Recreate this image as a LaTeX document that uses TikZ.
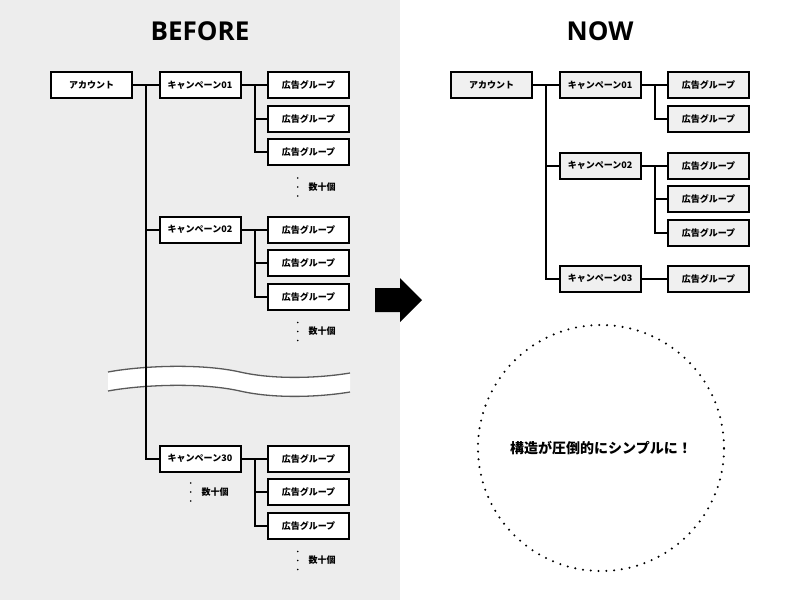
\documentclass[tikz,border=0pt]{standalone}
\usepackage{fontspec}
\setmainfont{Noto Sans CJK JP}
\newfontfamily\titlefont{Open Sans}[BoldFont={Open Sans Bold}]
\usetikzlibrary{math, calc}

\tikzset{
    box/.style={draw, line width=2pt, minimum width=81pt, minimum height=26pt, inner sep=0pt,
        font=\bfseries\fontsize{9}{9}\selectfont},
    oldbox/.style={box, fill=white},
    newbox/.style={box, fill=gray!12},
    link/.style={line width=2pt},
    many/.style={font=\bfseries\fontsize{9}{9}\selectfont, inner sep=0pt},
    title/.style={font=\titlefont\bfseries\fontsize{26}{26}\selectfont},
}

\begin{document}
\begin{tikzpicture}[x=1pt, y=-1pt]
    \tikzmath{
        \pitch=33.5;
        \gap=13;
        \grp=108.5;
    }
    \useasboundingbox (0, 0) rectangle (800, 600);
    \fill [gray!14] (0, 0) rectangle (400, 600);

    % titles
    \node [title] (before) at (200, 31) {BEFORE};
    \node [title] (now) at (600, 31) {NOW};

    % BEFORE
    \fill [white] (108, 372) .. controls (140, 366) and (200, 363) .. (240, 372)
        .. controls (275, 380) and (320, 378) .. (350, 373) -- (350, 392)
        .. controls (320, 397) and (275, 399) .. (240, 391)
        .. controls (200, 382) and (140, 385) .. (108, 391) -- cycle;
    \draw [black!65, line width=1.3pt] (108, 372) .. controls (140, 366) and (200, 363) .. (240, 372)
        .. controls (275, 380) and (320, 378) .. (350, 373);
    \draw [black!65, line width=1.3pt] (108, 391) .. controls (140, 385) and (200, 382) .. (240, 391)
        .. controls (275, 399) and (320, 397) .. (350, 392);

    \node [oldbox] (acc) at (91.5, 85) {アカウント};
    \foreach \c/\y in {01/85, 02/229.5, 30/458.5}{%
            \node [oldbox] (c\c) at (200, \y) {キャンペーン\c};
            \foreach \i in {1, 2, 3}{%
                    \node [oldbox] (g\c\i) at ($ (c\c) + (\grp, {(\i-1)*\pitch}) $) {広告グループ};
                }
            \draw [link] (c\c) -- (g\c1);
            \coordinate (b\c) at ([xshift=\gap] c\c.east);
            \draw [link] (b\c) |- (g\c2.west);
            \draw [link] (b\c) |- (g\c3.west);
        }
    \draw [link] (acc) -- (c01);
    \coordinate (trunk) at ([xshift=\gap] acc.east);
    \draw [link] (trunk) |- (c02.west);
    \draw [link] (trunk) |- (c30.west);

    % 数十個
    \foreach \p/\n in {g013/n01, g023/n02, g303/n30}{%
            \node [many] (\n) at ($ (\p) + (13.5, 35) $) {数十個};
        }
    \node [many] (n00) at ($ (c30) + (15, \pitch) $) {数十個};
    \foreach \n in {n01, n02, n30, n00}{%
            \foreach \d in {-9, 0, 9}{%
                    \fill ([xshift=-10.5pt, yshift=\d pt] \n.west) circle (0.9);
                }
        }

    % arrow
    \fill (375, 288) -- (400, 288) -- (400, 278) -- (422, 300) -- (400, 322) -- (400, 312) -- (375, 312) -- cycle;

    % NOW
    \node [newbox] (nacc) at (491.5, 85) {アカウント};
    \foreach \c/\y/\k in {01/85/2, 02/165.5/3, 03/278.5/1}{%
            \node [newbox] (m\c) at (600, \y) {キャンペーン\c};
            \coordinate (e\c) at ([xshift=\gap] m\c.east);
            \foreach \i in {1, 2, 3}{%
                    \ifnum\i>\k\relax\else
                        \node [newbox] (h\c\i) at ($ (m\c) + (\grp, {(\i-1)*\pitch}) $) {広告グループ};
                        \ifnum\i>1 \draw [link] (e\c) |- (h\c\i.west); \fi
                    \fi
                }
            \draw [link] (m\c) -- (h\c1);
        }
    \draw [link] (nacc) -- (m01);
    \coordinate (ntrunk) at ([xshift=\gap] nacc.east);
    \draw [link] (ntrunk) |- (m02.west);
    \draw [link] (ntrunk) |- (m03.west);

    % message
    \node [circle, draw, line width=2.3pt, dash pattern=on 0pt off 7.8pt, line cap=round,
        minimum size=246pt, font=\bfseries\fontsize{14}{14}\selectfont] (msg) at (601, 448) {構造が圧倒的にシンプルに！};
\end{tikzpicture}
\end{document}
